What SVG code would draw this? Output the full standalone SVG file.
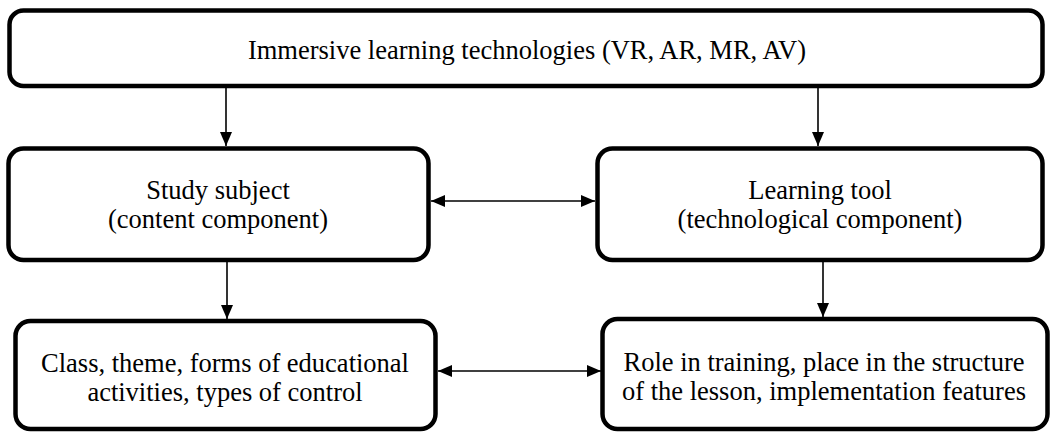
<svg xmlns="http://www.w3.org/2000/svg" width="1052" height="432" viewBox="0 0 1052 432">
<style>
.box{fill:#fff;stroke:#000;stroke-width:4.5}
.c{stroke:#000;stroke-width:1.6;fill:none}
</style>
<defs>
<marker id="ah" viewBox="0 0 14 12" refX="14" refY="6" markerWidth="14" markerHeight="12" markerUnits="userSpaceOnUse" orient="auto-start-reverse">
<path d="M0,0 L14,6 L0,12 Z" fill="#000"/>
</marker>
</defs>
<rect width="1052" height="432" fill="#fff"/>
<g id="connectors">
<line class="c" x1="226" y1="88" x2="226" y2="146" marker-end="url(#ah)"/>
<line class="c" x1="818" y1="88" x2="818" y2="146" marker-end="url(#ah)"/>
<line class="c" x1="431" y1="201" x2="595" y2="201" marker-start="url(#ah)" marker-end="url(#ah)"/>
<line class="c" x1="227" y1="262" x2="227" y2="319" marker-end="url(#ah)"/>
<line class="c" x1="823" y1="262" x2="823" y2="317" marker-end="url(#ah)"/>
<line class="c" x1="438" y1="371" x2="601" y2="371" marker-start="url(#ah)" marker-end="url(#ah)"/>
</g>
<g id="top">
<rect class="box" x="9.5" y="10.5" width="1033" height="75.5" rx="14"/>
<text x="527" y="59" font-family="Liberation Serif" font-size="26.5" text-anchor="middle">Immersive learning technologies (VR, AR, MR, AV)</text>
</g>
<g id="study">
<rect class="box" x="8.5" y="148.5" width="420" height="111.5" rx="15"/>
<text x="218" y="199" font-family="Liberation Serif" font-size="26.5" text-anchor="middle">Study subject</text>
<text x="218" y="228" font-family="Liberation Serif" font-size="26.5" text-anchor="middle">(content component)</text>
</g>
<g id="tool">
<rect class="box" x="597.5" y="148.5" width="445" height="111.5" rx="15"/>
<text x="820" y="199" font-family="Liberation Serif" font-size="26.5" text-anchor="middle">Learning tool</text>
<text x="820" y="228" font-family="Liberation Serif" font-size="26.5" text-anchor="middle">(technological component)</text>
</g>
<g id="class">
<rect class="box" x="15.5" y="321" width="420" height="108" rx="15"/>
<text x="225" y="372" font-family="Liberation Serif" font-size="26.5" text-anchor="middle">Class, theme, forms of educational</text>
<text x="225" y="401" font-family="Liberation Serif" font-size="26.5" text-anchor="middle">activities, types of control</text>
</g>
<g id="role">
<rect class="box" x="602.5" y="319" width="445" height="110" rx="15"/>
<text x="824" y="371" font-family="Liberation Serif" font-size="26.5" text-anchor="middle">Role in training, place in the structure</text>
<text x="824" y="400" font-family="Liberation Serif" font-size="26.5" text-anchor="middle">of the lesson, implementation features</text>
</g>
</svg>
